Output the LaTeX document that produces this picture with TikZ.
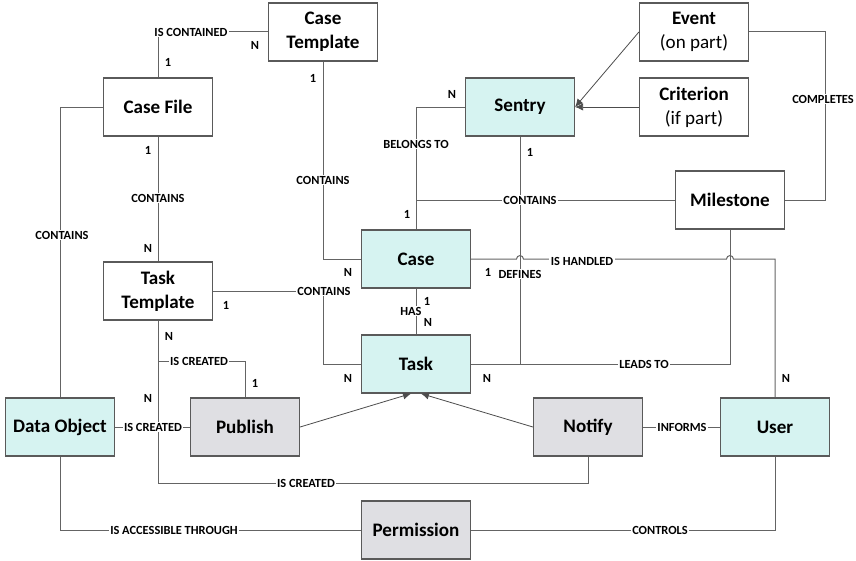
\documentclass[tikz,border=0pt]{standalone}
\usepackage{fontspec}
\setmainfont{Carlito}
\usepackage{tikz}
\usetikzlibrary{arrows.meta,calc}

\definecolor{casecyan}{RGB}{214,243,241}
\definecolor{actgray}{RGB}{223,223,227}
\definecolor{boxline}{RGB}{90,90,90}
\definecolor{linkline}{RGB}{100,100,100}

\begin{document}
\begin{tikzpicture}[x=0.75pt,y=-0.75pt,
    entity/.style={draw=boxline, line width=0.9pt, fill=white, minimum width=81.75pt, minimum height=43.5pt,
        align=center, inner sep=0pt, font=\fontsize{14.3}{18}\selectfont\bfseries},
    caseitem/.style={entity, fill=casecyan},
    action/.style={entity, fill=actgray},
    link/.style={draw=linkline, line width=0.75pt},
    tip/.style={draw=black!70, line width=0.6pt, -{Latex[length=6pt,width=5.5pt]}},
    rel/.style={fill=white, inner sep=1pt, font=\fontsize{9.3}{10}\selectfont\bfseries},
    card/.style={inner sep=0pt, font=\fontsize{9.3}{10}\selectfont\bfseries}]
    \useasboundingbox (0,0) rectangle (856,560);

    % Entities
    \node[entity] (casetemplate) at (323,32) {Case\\Template};
    \node[entity] (casefile) at (158,107) {Case File};
    \node[entity] (event) at (694,32) {Event\\\mdseries(on part)};
    \node[caseitem] (sentry) at (520,107) {Sentry};
    \node[entity] (criterion) at (694,107) {Criterion\\\mdseries(if part)};
    \node[entity] (milestone) at (730,200) {Milestone};
    \node[caseitem] (case) at (416,259) {Case};
    \node[entity] (tasktemplate) at (158,291) {Task\\Template};
    \node[caseitem] (task) at (416,364) {Task};
    \node[caseitem] (dataobject) at (60,427) {Data Object};
    \node[action] (publish) at (245,427) {Publish};
    \node[action] (notify) at (588,427) {Notify};
    \node[caseitem] (user) at (775,427) {User};
    \node[action] (permission) at (416,530) {Permission};

    % Relations
    \draw[link] (casefile.north) |- (casetemplate.west);
    \draw[link] (casefile.south) -- (tasktemplate.north);
    \draw[link] (casefile.west) -| (dataobject.north);
    \draw[link] (casetemplate.south) |- (case.west);
    \draw[link] (tasktemplate.east) -| (casetemplate.south |- task.west) -- (task.west);
    \draw[link] (case.south) -- (task.north);
    \draw[link] (case.north) |- (sentry.west);
    \draw[link] (case.north) |- (milestone.west);
    \draw[link] (sentry.south) -- (sentry.south |- task.east);
    \draw[link] (task.east) -| (milestone.south);
    \draw[link] (case.east) -- ($(sentry.south |- case.east)+(-3.5,0)$)
        arc[start angle=180, end angle=0, radius=2.6pt]
        -- ($(milestone.south |- case.east)+(-3.5,0)$)
        arc[start angle=180, end angle=0, radius=2.6pt] -| (user.north);
    \draw[link] (event.east) -- ++(76,0) |- (milestone.east);
    \draw[link] (tasktemplate.south) |- ($(notify.south)+(0,27)$) -- (notify.south);
    \draw[link] ($(tasktemplate.south)+(0,41)$) -| (publish.north);
    \draw[link] (dataobject.east) -- (publish.west);
    \draw[link] (dataobject.south) |- (permission.west);
    \draw[link] (permission.east) -| (user.south);
    \draw[link] (notify.east) -- (user.west);

    % Arrows
    \draw[tip] (event.west) -- (sentry.east);
    \draw[tip] (criterion.west) -- (sentry.east);
    \draw[tip] (publish.east) -- ($(task.south)+(-5,0)$);
    \draw[tip] (notify.west) -- ($(task.south)+(5,0)$);

    % Relation labels
    \foreach \x/\y/\t [count=\i] in {191/32/IS CONTAINED, 158/198/CONTAINS, 62/235/CONTAINS,
        323/180/CONTAINS, 324/291/CONTAINS, 416/144/BELONGS TO, 530/200/CONTAINS,
        520/274/DEFINES, 582/261/IS HANDLED, 411/311/HAS, 644/364/LEADS TO,
        823/99/COMPLETES, 199/361/IS CREATED, 153/427/IS CREATED, 306/483/IS CREATED,
        682/427/INFORMS, 174/530/IS ACCESSIBLE THROUGH, 660/530/CONTROLS} {
        \node[rel] (rel\i) at (\x,\y) {\t};
    }

    % Cardinalities
    \foreach \x/\y/\c [count=\i] in {168/62/1, 255/45/N, 313/78/1, 148/150/1, 148/248/N,
        348/272/N, 348/378/N, 226/305/1, 169/336/N, 255/383/1, 148/398/N, 452/94/N,
        407/214/1, 530/152/1, 427/301/1, 428/322/N, 488/272/1, 487/378/N, 786/378/N} {
        \node[card] (card\i) at (\x,\y) {\c};
    }
\end{tikzpicture}
\end{document}
